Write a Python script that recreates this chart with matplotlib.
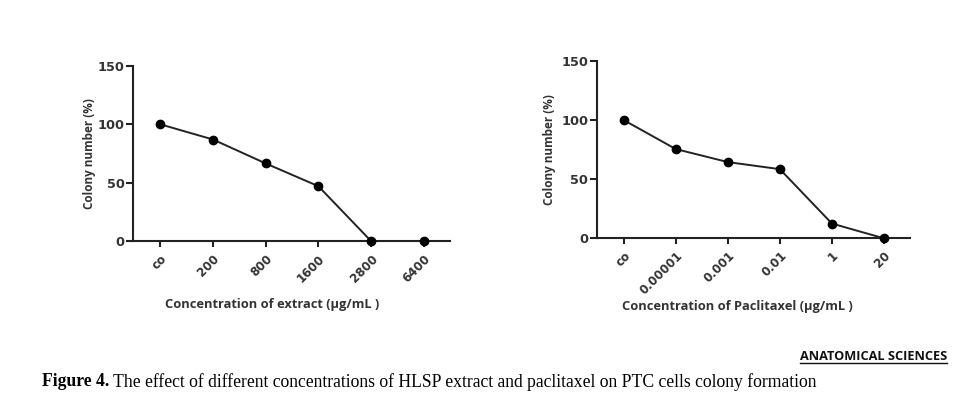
import matplotlib
matplotlib.use("Agg")
import matplotlib.pyplot as plt
from matplotlib.lines import Line2D

# extract panel
extract_labels = ["co", "200", "800", "1600", "2800", "6400"]
extract_values = [100, 87, 66.5, 47, 0, 0]

# paclitaxel panel
pacli_labels = ["co", "0.00001", "0.001", "0.01", "1", "20"]
pacli_values = [100, 75.5, 64.5, 58.5, 12.5, 0]

y_ticks = [0, 50, 100, 150]

fig = plt.figure(figsize=(9.75, 4.04), dpi=100)


def panel(rect, labels, values, xlabel, xlab_pos, ylab_x):
    ax = fig.add_axes(rect)
    x = list(range(len(labels)))
    ax.plot(x, values, color="#222222", lw=1.4, marker="o", ms=6,
            mfc="black", mec="black", clip_on=False, zorder=3)
    ax.set_xlim(-0.52, 5.5)
    ax.set_ylim(0, 150)
    ax.set_yticks(y_ticks)
    ax.set_xticks(x)
    ax.set_xticklabels(labels, rotation=45, ha="right", rotation_mode="anchor",
                       fontsize=8.6, fontweight="heavy", color="#333333",
                       family="DejaVu Sans")
    for t in ax.get_yticklabels():
        t.set_fontsize(9.3)
        t.set_fontweight("heavy")
        t.set_color("#333333")
        t.set_family("DejaVu Sans")
    ax.spines["top"].set_visible(False)
    ax.spines["right"].set_visible(False)
    for s in ("left", "bottom"):
        ax.spines[s].set_linewidth(1.5)
        ax.spines[s].set_color("#222222")
    ax.tick_params(axis="y", length=5, width=1.5, pad=1, color="#222222")
    ax.tick_params(axis="x", length=4, width=1.5, pad=4, color="#222222")
    ax.set_ylabel("Colony number (%)", fontsize=8.5, fontweight="bold",
                  color="#333333", family="Open Sans")
    ax.yaxis.set_label_coords(ylab_x, 0.5)
    ax.set_xlabel(xlabel, fontsize=9.3, fontweight="bold", color="#333333",
                  family="Open Sans")
    ax.xaxis.set_label_coords(*xlab_pos)
    return ax


panel([0.1364, 0.4035, 0.3251, 0.4331], extract_labels, extract_values,
      "Concentration of extract (\u00b5g/mL )", (0.44, -0.326), -0.117)
panel([0.612, 0.4101, 0.3213, 0.4389], pacli_labels, pacli_values,
      "Concentration of Paclitaxel (\u00b5g/mL )", (0.448, -0.348), -0.13)

# journal mark and caption
fig.text(0.9713, 1 - 357 / 404, "ANATOMICAL SCIENCES", ha="right", va="center",
         fontsize=9.2, fontweight="bold", family="Open Sans", color="#111111")
fig.add_artist(Line2D([800 / 975, 947 / 975], [1 - 363 / 404, 1 - 363 / 404],
                      color="#111111", lw=1))
cap_y = 1 - 382 / 404
head = fig.text(0.043, cap_y, "Figure 4.", ha="left", va="center",
                fontsize=12.7, fontweight="bold", family="Liberation Serif")
renderer = fig.canvas.get_renderer()
bb = head.get_window_extent(renderer)
fig.text((bb.x1 + 4) / fig.bbox.width, cap_y,
         "The effect of different concentrations of HLSP extract and paclitaxel on PTC cells colony formation",
         ha="left", va="center", fontsize=12.7, family="Liberation Serif")

fig.savefig("out.png", dpi=100)
